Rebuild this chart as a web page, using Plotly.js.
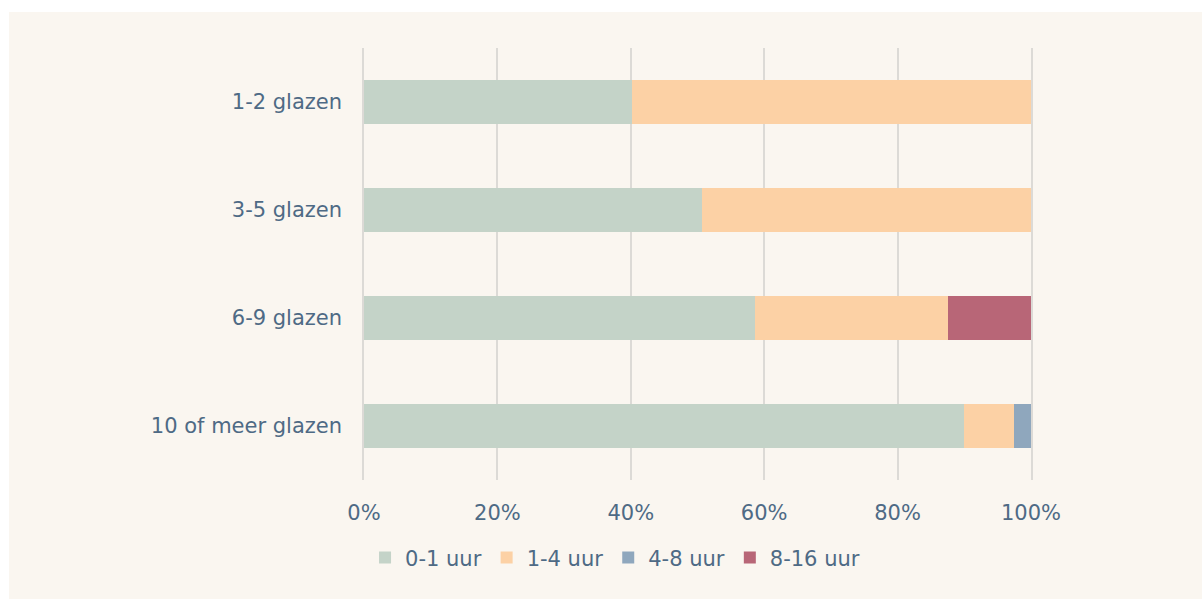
<!DOCTYPE html>
<html>
<head>
<meta charset="utf-8">
<script src="https://cdn.plot.ly/plotly-3.0.1.min.js"></script>
<style>
html,body{margin:0;padding:0;background:#ffffff;width:1202px;height:599px;overflow:hidden;}
#chart{position:absolute;left:9px;top:12px;width:1193px;height:587px;}
</style>
</head>
<body>
<div id="chart"></div>
<script>
const categories = ["1-2 glazen", "3-5 glazen", "6-9 glazen", "10 of meer glazen"];
const seriesNames = ["0-1 uur", "1-4 uur", "4-8 uur", "8-16 uur"];
const colors = ["#c4d3c8", "#fcd1a5", "#8fa7bd", "#b86677"];
const uur0_1 = [40.2, 50.7, 58.6, 90.0];
const uur1_4 = [59.8, 49.3, 29.0, 7.5];
const uur4_8 = [0, 0, 0, 2.5];
const uur8_16 = [0, 0, 12.4, 0];
const tickVals = [0, 20, 40, 60, 80, 100];
const tickText = ["0%", "20%", "40%", "60%", "80%", "100%"];

const values = [uur0_1, uur1_4, uur4_8, uur8_16];
const textColor = "#4e6a85";
const gridColor = "#dcdad6";
const font = {family: "DejaVu Sans, Verdana, sans-serif", size: 21, color: textColor};

const traces = seriesNames.map((n, i) => ({
  type: "bar",
  orientation: "h",
  name: n,
  y: categories,
  x: values[i],
  marker: {color: colors[i], line: {width: 0}},
  width: 0.4,
  hoverinfo: "x+name"
}));

const layout = {
  barmode: "stack",
  paper_bgcolor: "#faf6f0",
  plot_bgcolor: "#faf6f0",
  font: font,
  margin: {l: 355, r: 171, t: 36, b: 119},
  xaxis: {
    range: [0, 100],
    tickvals: tickVals,
    ticktext: tickText,
    showgrid: true,
    gridcolor: gridColor,
    gridwidth: 1.5,
    zeroline: false,
    showline: false,
    ticks: "outside",
    ticklen: 14,
    tickcolor: "rgba(0,0,0,0)",
    tickfont: font,
    fixedrange: true
  },
  yaxis: {
    categoryorder: "array",
    categoryarray: categories,
    autorange: false,
    range: [3.5, -0.5],
    showgrid: false,
    zeroline: false,
    showline: true,
    mirror: true,
    linecolor: gridColor,
    linewidth: 1.5,
    ticks: "outside",
    ticklen: 16,
    tickcolor: "rgba(0,0,0,0)",
    tickfont: font,
    fixedrange: true
  },
  showlegend: true,
  legend: {
    orientation: "h",
    xref: "container",
    yref: "container",
    x: 0.508,
    xanchor: "center",
    y: 0.07,
    yanchor: "middle",
    font: font,
    traceorder: "normal",
    itemwidth: 30,
    bgcolor: "rgba(0,0,0,0)"
  }
};

Plotly.newPlot("chart", traces, layout, {displayModeBar: false, responsive: false});
</script>
</body>
</html>
